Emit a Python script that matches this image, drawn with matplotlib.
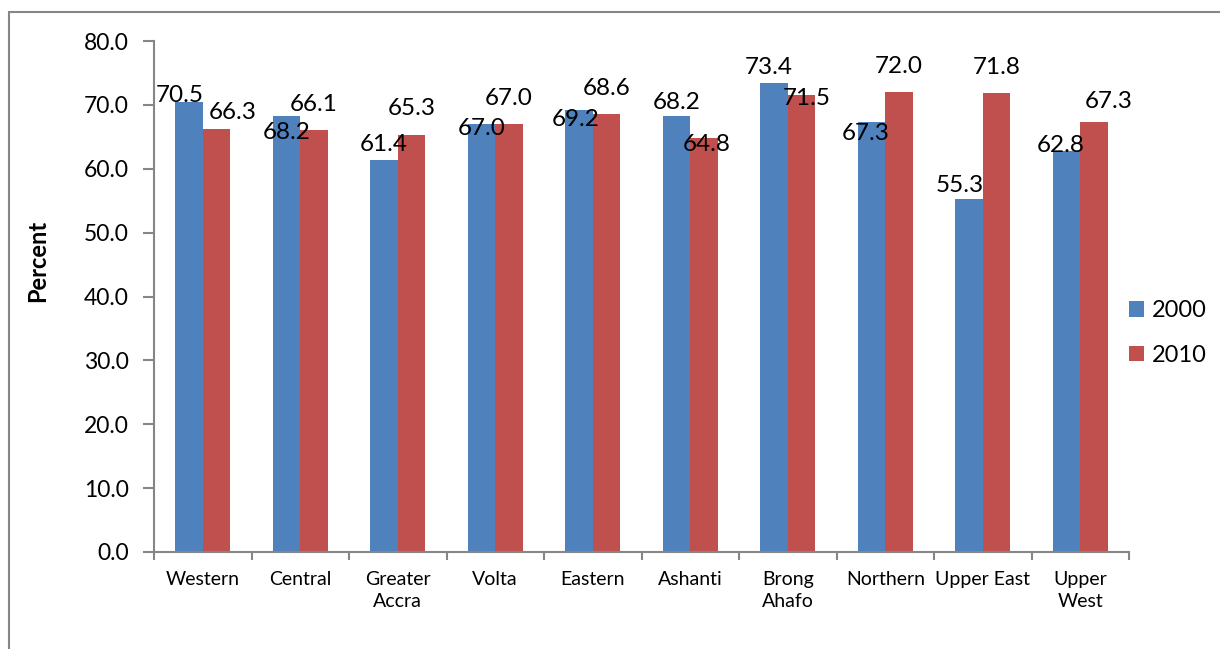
import numpy as np
import matplotlib.pyplot as plt
from matplotlib.patches import Rectangle

plt.rcParams['font.family'] = ['Lato', 'DejaVu Sans']

regions = ['Western', 'Central', 'Greater\nAccra', 'Volta', 'Eastern', 'Ashanti',
           'Brong\nAhafo', 'Northern', 'Upper East', 'Upper\nWest']
y2000 = [70.5, 68.2, 61.4, 67.0, 69.2, 68.2, 73.4, 67.3, 55.3, 62.8]
y2010 = [66.3, 66.1, 65.3, 67.0, 68.6, 64.8, 71.5, 72.0, 71.8, 67.3]

# label nudges (pixels) to mimic where Excel put the data labels
dx2000 = [-9, 0, 0, 0, -3, 0, -5, -6, -9, -6]
dy2000 = [0, -23, 9, -11, -16, 7, 9, -18, 7, -1]
dx2010 = [16, 0, 0, 0, 0, 3, 5, 0, 0, 15]
dy2010 = [10, 19, 20, 19, 19, -13, -10, 19, 19, 14]

blue = '#4F81BD'
red = '#C0504D'
grey = '#868686'

fig = plt.figure(figsize=(12.2, 6.49), dpi=100)
ax = fig.add_axes([154/1220, 1-552/649, 975/1220, 511/649])

x = np.arange(len(regions))
w = 0.282
b1 = ax.bar(x - w/2, y2000, w, color=blue, label='2000')
b2 = ax.bar(x + w/2, y2010, w, color=red, label='2010')

for i in range(len(regions)):
    ax.annotate(f'{y2000[i]:.1f}', (x[i] - w/2, y2000[i]), xytext=(dx2000[i], dy2000[i]),
                textcoords='offset pixels', ha='center', va='baseline', fontsize=17.5)
    ax.annotate(f'{y2010[i]:.1f}', (x[i] + w/2, y2010[i]), xytext=(dx2010[i], dy2010[i]),
                textcoords='offset pixels', ha='center', va='baseline', fontsize=17.5)

ax.set_xlim(-0.5, len(regions) - 0.5)
ax.set_ylim(0, 80)
ax.set_yticks(np.arange(0, 81, 10))
ax.set_yticklabels([f'{v:.1f}' for v in np.arange(0, 81, 10)], fontsize=16.5)
ax.set_xticks(np.arange(-0.5, len(regions)), minor=False)
ax.set_xticklabels([])
ax.set_xticks(x, minor=True)
ax.set_xticklabels(regions, minor=True, fontsize=14, linespacing=1.3)
ax.tick_params(axis='x', which='major', length=6, width=1.5, color=grey, direction='out')
ax.tick_params(axis='x', which='minor', length=0, pad=14)
ax.tick_params(axis='y', length=8, width=1.5, color=grey, direction='out', pad=10)

for s in ['top', 'right']:
    ax.spines[s].set_visible(False)
for s in ['left', 'bottom']:
    ax.spines[s].set_color(grey)
    ax.spines[s].set_linewidth(1.5)

fig.text(37.5/1220, 1-261/649, 'Percent', rotation=90, ha='center', va='center',
         fontsize=17, fontweight='bold')

fig.legend(handles=[b1, b2], loc='center left', bbox_to_anchor=(1129/1220, 1-333/649),
           frameon=False, fontsize=17, handlelength=0.65, handleheight=0.65,
           handletextpad=0.3, labelspacing=1.0, borderpad=0, borderaxespad=0)

# chart border
fig.patches.append(Rectangle((8.5/1220, -0.05), 1.1, 1-11.5/649+0.05, transform=fig.transFigure,
                             fill=False, edgecolor=grey, linewidth=1.5))

fig.savefig('out.png', dpi=100)
